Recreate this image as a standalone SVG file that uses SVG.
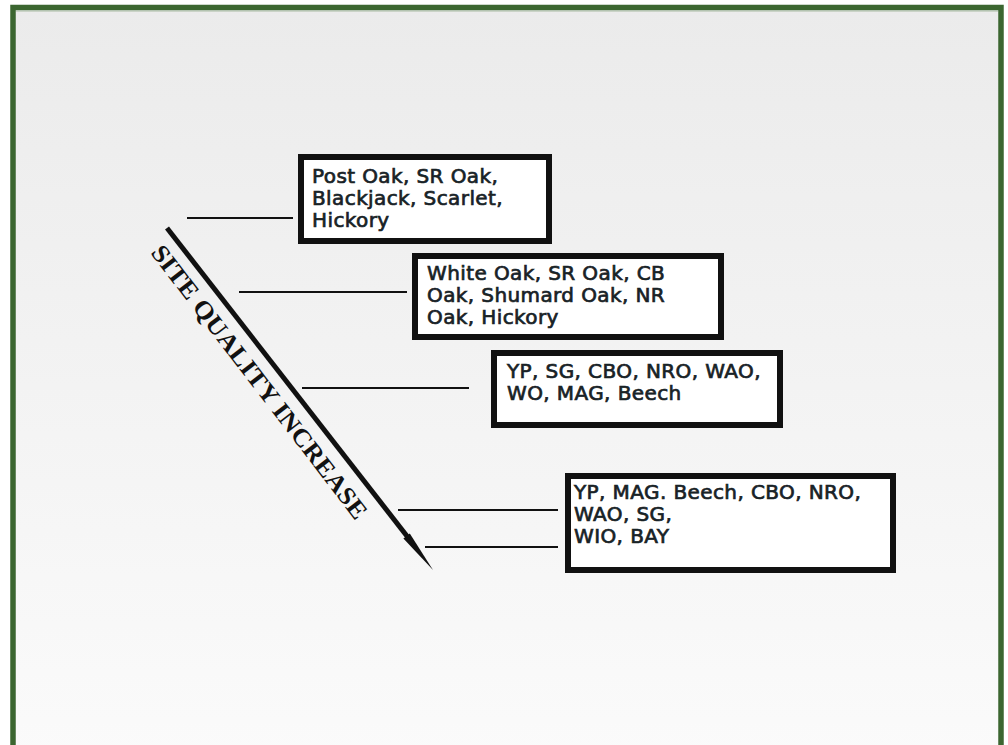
<svg xmlns="http://www.w3.org/2000/svg" width="1008" height="745" viewBox="0 0 1008 745">
<defs>
<linearGradient id="bg" x1="0" y1="0" x2="0" y2="1">
<stop offset="0" stop-color="#ebebeb"/>
<stop offset="1" stop-color="#fbfbfb"/>
</linearGradient>
<style>
.box{fill:#ffffff;stroke:#111111;stroke-width:6}
.t{font-family:"DejaVu Sans",Verdana,sans-serif;font-size:20px;letter-spacing:0.4px;fill:#182226;stroke:#182226;stroke-width:0.7}
.c{stroke:#111111;stroke-width:2.2;fill:none}
.lab{font-family:"Liberation Serif","Times New Roman",serif;font-size:25px;font-weight:bold;fill:#111111}
</style>
</defs>
<rect x="0" y="0" width="1008" height="745" fill="#ffffff"/>
<rect x="13" y="7.5" width="988" height="760" fill="url(#bg)" stroke="#3b6630" stroke-width="5.5"/>
<line x1="16" y1="11" x2="998" y2="11" stroke="#a9bca4" stroke-width="1"/>
<g id="connectors">
<line class="c" x1="187" y1="218" x2="293" y2="218"/>
<line class="c" x1="239" y1="292" x2="407" y2="292"/>
<line class="c" x1="302" y1="388" x2="469" y2="388"/>
<line class="c" x1="398" y1="510" x2="558" y2="510"/>
<line class="c" x1="425" y1="547" x2="558" y2="547"/>
</g>
<g id="arrow">
<line x1="167" y1="228" x2="410" y2="540" stroke="#111111" stroke-width="5"/>
<polygon points="433,570 403.4,538.5 409.8,533.5" fill="#111111"/>
<text class="lab" transform="translate(150,253) rotate(52.5)" textLength="338" lengthAdjust="spacingAndGlyphs">SITE QUALITY INCREASE</text>
</g>
<g id="box1">
<rect class="box" x="301" y="157" width="248" height="84"/>
<text class="t" x="312" y="183">Post Oak, SR Oak,</text>
<text class="t" x="312" y="205">Blackjack, Scarlet,</text>
<text class="t" x="312" y="227">Hickory</text>
</g>
<g id="box2">
<rect class="box" x="415" y="256" width="306" height="81"/>
<text class="t" x="427" y="280">White Oak, SR Oak, CB</text>
<text class="t" x="427" y="302">Oak, Shumard Oak, NR</text>
<text class="t" x="427" y="324">Oak, Hickory</text>
</g>
<g id="box3">
<rect class="box" x="494" y="353" width="286" height="72"/>
<text class="t" x="507" y="378">YP, SG, CBO, NRO, WAO,</text>
<text class="t" x="507" y="400">WO, MAG, Beech</text>
</g>
<g id="box4">
<rect class="box" x="568" y="476" width="325" height="94"/>
<text class="t" x="574" y="499">YP, MAG. Beech, CBO, NRO,</text>
<text class="t" x="574" y="521">WAO, SG,</text>
<text class="t" x="574" y="543">WIO, BAY</text>
</g>
</svg>
